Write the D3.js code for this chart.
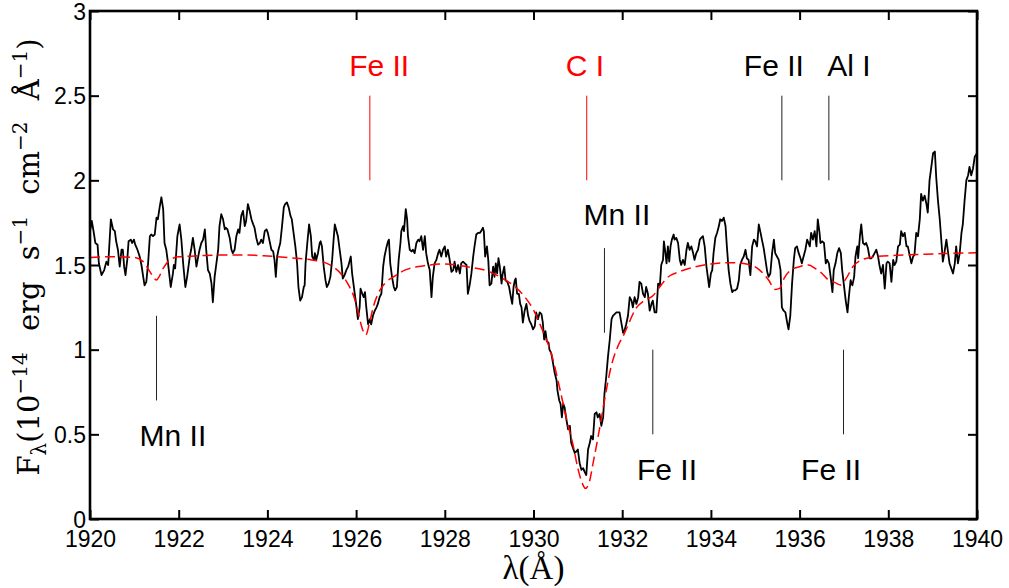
<!DOCTYPE html>
<html>
<head>
<meta charset="utf-8">
<script src="https://cdn.jsdelivr.net/npm/d3@7"></script>
<style>
  body { margin: 0; background: #fff; }
  svg { display: block; }
</style>
</head>
<body>
<div id="chart"></div>
<script>
// observed spectrum (wavelength in A, flux in 1e-14 erg/s/cm2/A)
var wl = [1920.00,1920.04,1920.08,1920.12,1920.17,1920.20,1920.26,1920.32,1920.37,1920.41,1920.47,1920.52,1920.56,1920.59,1920.63,1920.67,1920.71,1920.74,1920.77,1920.80,1920.84,1920.87,1920.92,1920.95,1920.99,1921.02,1921.07,1921.12,1921.16,1921.20,1921.23,1921.27,1921.31,1921.35,1921.38,1921.42,1921.46,1921.50,1921.53,1921.57,1921.61,1921.65,1921.68,1921.72,1921.76,1921.82,1921.87,1921.89,1921.92,1921.97,1922.02,1922.06,1922.10,1922.15,1922.19,1922.25,1922.28,1922.32,1922.36,1922.40,1922.44,1922.47,1922.51,1922.55,1922.59,1922.62,1922.66,1922.70,1922.74,1922.77,1922.81,1922.85,1922.89,1922.92,1922.96,1923.00,1923.04,1923.06,1923.10,1923.15,1923.19,1923.22,1923.26,1923.30,1923.34,1923.37,1923.41,1923.45,1923.49,1923.52,1923.56,1923.60,1923.64,1923.68,1923.71,1923.75,1923.79,1923.83,1923.86,1923.90,1923.94,1923.98,1924.01,
  1924.09,1924.13,1924.16,1924.19,1924.22,1924.25,1924.29,1924.33,1924.37,1924.40,1924.44,1924.48,1924.52,1924.55,1924.59,1924.63,1924.67,1924.70,1924.74,1924.78,1924.82,1924.84,1924.86,1924.90,1924.94,1924.98,1925.01,1925.05,1925.07,1925.10,1925.14,1925.18,1925.20,1925.23,1925.27,1925.31,1925.34,1925.38,1925.42,1925.46,1925.49,1925.52,1925.55,1925.59,1925.63,1925.67,1925.70,1925.74,1925.78,1925.82,1925.85,1925.88,1925.91,1925.94,1925.97,1926.00,1926.04,1926.08,1926.10,1926.14,1926.17,1926.20,1926.23,1926.27,1926.31,1926.34,1926.38,1926.42,1926.46,1926.49,1926.53,1926.57,1926.61,1926.64,1926.68,1926.72,1926.74,1926.77,1926.81,1926.85,1926.88,1926.92,1926.96,1927.00,1927.02,1927.06,1927.08,1927.12,1927.15,1927.17,1927.21,1927.25,1927.28,1927.32,1927.36,1927.40,1927.43,1927.47,1927.51,1927.55,1927.58,1927.62,1927.66,1927.70,1927.73,1927.77,1927.81,1927.85,1927.88,1927.92,1927.96,1928.00,1928.03,1928.07,1928.11,
  1928.15,1928.19,1928.22,1928.26,1928.30,1928.34,1928.37,1928.41,1928.45,1928.49,1928.52,1928.56,1928.60,1928.64,1928.67,1928.71,1928.75,1928.79,1928.82,1928.86,1928.88,1928.91,1928.95,1928.98,1929.01,1929.05,1929.09,1929.12,1929.15,1929.18,1929.21,1929.24,1929.28,1929.30,1929.34,1929.37,1929.41,1929.45,1929.49,1929.52,1929.55,1929.58,1929.60,1929.63,1929.67,1929.70,1929.73,1929.76,1929.80,1929.84,1929.88,1929.91,1929.95,1929.99,1930.03,1930.06,1930.10,1930.14,1930.18,1930.21,1930.24,1930.27,1930.30,1930.34,1930.36,1930.40,1930.44,1930.48,1930.52,1930.54,1930.58,1930.61,1930.64,1930.67,1930.70,1930.74,1930.78,1930.82,1930.85,1930.89,1930.93,1930.97,1931.00,1931.04,1931.08,1931.12,1931.15,1931.19,1931.23,1931.27,1931.30,1931.34,1931.38,1931.42,1931.45,1931.49,1931.53,1931.57,1931.60,1931.64,1931.68,1931.72,1931.76,1931.79,1931.83,1931.87,1931.91,1931.94,1931.98,1932.02,1932.06,1932.09,1932.13,1932.17,
  1932.21,1932.24,1932.28,1932.32,1932.36,1932.39,1932.43,1932.47,1932.51,1932.54,1932.58,1932.62,1932.66,1932.69,1932.73,1932.77,1932.81,1932.85,1932.88,1932.92,1932.94,1932.97,1933.00,1933.03,1933.06,1933.09,1933.12,1933.16,1933.18,1933.22,1933.26,1933.30,1933.33,1933.37,1933.41,1933.45,1933.48,1933.52,1933.56,1933.60,1933.63,1933.67,1933.71,1933.75,1933.78,1933.82,1933.86,1933.90,1933.94,1933.96,1934.00,1934.03,1934.06,1934.10,1934.14,1934.18,1934.21,1934.25,1934.29,1934.33,1934.36,1934.40,1934.44,1934.48,1934.51,1934.55,1934.59,1934.63,1934.66,1934.70,1934.74,1934.78,1934.81,1934.85,1934.89,1934.93,1934.97,1935.00,1935.04,1935.08,1935.12,1935.15,1935.19,1935.23,1935.27,1935.30,1935.34,1935.38,1935.42,1935.45,1935.49,1935.53,1935.57,1935.60,1935.64,1935.68,1935.72,1935.75,1935.79,1935.83,1935.87,1935.90,1935.94,1935.98,1936.02,1936.05,1936.09,1936.13,1936.17,1936.20,
  1936.23,1936.26,1936.30,1936.34,1936.38,1936.41,1936.45,1936.47,1936.51,1936.55,1936.59,1936.62,1936.66,1936.70,1936.74,1936.77,1936.81,1936.85,1936.89,1936.93,1936.96,1937.00,1937.04,1937.08,1937.11,1937.15,1937.19,1937.23,1937.26,1937.30,1937.32,1937.36,1937.39,1937.43,1937.47,1937.50,1937.54,1937.58,1937.62,1937.65,1937.69,1937.73,1937.77,1937.80,1937.84,1937.88,1937.92,1937.96,1937.99,1938.03,1938.07,1938.11,1938.14,1938.18,1938.22,1938.26,1938.29,1938.33,1938.37,1938.41,1938.44,1938.48,1938.52,1938.56,1938.59,1938.63,1938.67,1938.71,1938.74,1938.78,1938.82,1938.86,1938.89,1938.93,1938.97,1939.01,1939.05,1939.08,1939.12,1939.16,1939.20,1939.23,1939.27,1939.31,1939.35,1939.38,1939.42,1939.46,1939.50,1939.53,1939.57,1939.61,1939.65,1939.68,1939.72,1939.76,1939.80,1939.83,1939.87,1939.91,1939.95,1940.00];
var flux = [1.70,1.76,1.70,1.63,1.62,1.51,1.44,1.47,1.52,1.50,1.77,1.71,1.70,1.64,1.59,1.49,1.59,1.59,1.49,1.44,1.53,1.64,1.65,1.63,1.65,1.62,1.59,1.55,1.50,1.43,1.38,1.40,1.51,1.67,1.68,1.67,1.68,1.78,1.77,1.84,1.90,1.83,1.63,1.59,1.51,1.37,1.45,1.50,1.48,1.67,1.74,1.65,1.51,1.37,1.43,1.55,1.59,1.66,1.59,1.49,1.55,1.59,1.63,1.65,1.71,1.59,1.47,1.45,1.39,1.28,1.43,1.51,1.59,1.73,1.80,1.77,1.71,1.72,1.71,1.66,1.59,1.57,1.59,1.67,1.71,1.69,1.79,1.82,1.73,1.76,1.86,1.82,1.77,1.74,1.72,1.66,1.62,1.63,1.65,1.63,1.70,1.71,1.69,
  1.59,1.58,1.53,1.43,1.55,1.59,1.63,1.73,1.84,1.86,1.87,1.84,1.79,1.77,1.69,1.61,1.51,1.37,1.29,1.31,1.37,1.38,1.51,1.63,1.74,1.67,1.55,1.53,1.57,1.53,1.57,1.63,1.64,1.61,1.49,1.41,1.37,1.39,1.43,1.53,1.64,1.74,1.71,1.67,1.59,1.51,1.42,1.44,1.47,1.49,1.52,1.55,1.45,1.39,1.33,1.27,1.18,1.25,1.36,1.33,1.31,1.34,1.25,1.15,1.18,1.15,1.20,1.23,1.25,1.27,1.31,1.33,1.49,1.55,1.60,1.64,1.65,1.51,1.43,1.37,1.35,1.37,1.53,1.63,1.70,1.73,1.70,1.83,1.77,1.67,1.59,1.58,1.59,1.57,1.63,1.65,1.64,1.67,1.59,1.67,1.57,1.51,1.47,1.31,1.43,1.51,1.53,1.57,1.59,1.55,1.59,1.61,1.55,1.59,1.53,
  1.46,1.47,1.52,1.46,1.50,1.45,1.51,1.52,1.51,1.50,1.33,1.38,1.45,1.55,1.61,1.68,1.69,1.69,1.70,1.72,1.70,1.55,1.61,1.53,1.38,1.39,1.49,1.43,1.51,1.45,1.54,1.49,1.39,1.44,1.49,1.41,1.40,1.37,1.31,1.27,1.37,1.41,1.42,1.33,1.33,1.27,1.25,1.16,1.23,1.27,1.20,1.17,1.15,1.12,1.14,1.22,1.18,1.22,1.21,1.16,1.06,1.11,1.05,1.04,1.00,0.98,0.92,0.86,0.82,0.76,0.70,0.68,0.60,0.68,0.66,0.59,0.53,0.55,0.45,0.42,0.39,0.40,0.41,0.33,0.29,0.30,0.28,0.26,0.41,0.45,0.49,0.47,0.62,0.63,0.60,0.62,0.55,0.60,0.74,0.84,0.96,1.06,1.18,1.20,1.21,1.22,1.22,1.22,1.16,1.10,1.12,1.15,1.20,1.31,
  1.29,1.25,1.31,1.27,1.31,1.40,1.39,1.33,1.31,1.37,1.33,1.23,1.27,1.29,1.22,1.22,1.39,1.38,1.50,1.53,1.64,1.58,1.51,1.61,1.52,1.61,1.65,1.68,1.65,1.66,1.63,1.53,1.50,1.53,1.50,1.59,1.63,1.59,1.61,1.57,1.53,1.57,1.59,1.65,1.66,1.67,1.61,1.49,1.41,1.37,1.45,1.47,1.57,1.66,1.69,1.73,1.77,1.76,1.78,1.73,1.61,1.47,1.39,1.34,1.35,1.35,1.36,1.41,1.50,1.53,1.55,1.59,1.54,1.53,1.44,1.61,1.65,1.64,1.61,1.74,1.69,1.65,1.60,1.53,1.46,1.43,1.45,1.57,1.65,1.57,1.55,1.53,1.47,1.25,1.23,1.22,1.16,1.12,1.20,1.39,1.53,1.60,1.61,1.57,1.54,1.51,1.55,1.59,1.65,1.63,
  1.61,1.69,1.65,1.70,1.61,1.77,1.69,1.63,1.64,1.63,1.51,1.53,1.51,1.43,1.34,1.47,1.51,1.57,1.60,1.57,1.47,1.38,1.29,1.22,1.31,1.41,1.38,1.43,1.55,1.61,1.54,1.67,1.74,1.63,1.62,1.63,1.60,1.54,1.54,1.55,1.57,1.59,1.55,1.50,1.45,1.50,1.36,1.51,1.52,1.51,1.40,1.53,1.50,1.52,1.61,1.62,1.70,1.67,1.69,1.61,1.61,1.56,1.51,1.55,1.56,1.69,1.67,1.77,1.92,1.88,1.91,1.86,1.81,2.00,2.08,2.16,2.17,2.02,1.88,1.77,1.63,1.52,1.58,1.65,1.57,1.51,1.48,1.45,1.51,1.61,1.51,1.57,1.69,1.74,1.88,2.00,2.03,2.08,2.03,2.07,2.14,2.16];

// model fit
var modelWl = [1920.00,1920.50,1921.00,1921.20,1921.35,1921.45,1921.50,1921.55,1921.65,1921.80,1922.00,1922.50,1923.00,1923.50,1924.00,1924.50,1925.00,1925.30,1925.50,1925.70,1925.85,1925.95,1926.05,1926.15,1926.22,1926.30,1926.40,1926.50,1926.65,1926.85,1927.10,1927.50,1928.00,1928.50,1929.00,1929.30,1929.60,1929.80,1930.00,1930.20,1930.40,1930.60,1930.75,1930.90,1931.00,1931.10,1931.17,1931.25,1931.35,1931.45,1931.55,1931.65,1931.75,1931.90,1932.05,1932.15,1932.30,1932.50,1932.70,1932.85,1933.00,1933.30,1933.60,1934.00,1934.50,1934.90,1935.10,1935.30,1935.45,1935.55,1935.65,1935.80,1936.00,1936.20,1936.35,1936.50,1936.65,1936.80,1936.92,1937.05,1937.20,1937.40,1937.70,1938.20,1939.00,1939.50,1940.00];
var modelFlux = [1.545,1.549,1.545,1.520,1.461,1.421,1.411,1.427,1.480,1.530,1.549,1.555,1.559,1.559,1.553,1.543,1.530,1.514,1.486,1.435,1.372,1.313,1.215,1.116,1.087,1.156,1.264,1.333,1.392,1.431,1.470,1.494,1.506,1.490,1.461,1.421,1.368,1.313,1.234,1.116,0.978,0.762,0.585,0.427,0.299,0.211,0.181,0.211,0.339,0.476,0.624,0.772,0.900,1.018,1.096,1.156,1.240,1.290,1.320,1.372,1.421,1.461,1.486,1.506,1.514,1.500,1.470,1.411,1.356,1.362,1.421,1.470,1.490,1.500,1.480,1.451,1.411,1.396,1.382,1.421,1.490,1.530,1.549,1.557,1.565,1.569,1.573];

// line identifications
var lineName = ["Fe II","C I","Fe II","Al I","Mn II","Mn II","Fe II","Fe II"];
var lineWl = [1926.31,1931.20,1935.60,1936.66,1931.60,1921.50,1932.69,1936.99];
var lineFitted = [true,true,false,false,false,false,false,false];
var markTop = [2.5,2.5,2.5,2.5,1.6,1.2,1.0,1.0];
var markBottom = [2.0,2.0,2.0,2.0,1.1,0.7,0.5,0.5];
var labelWl = [1926.52,1931.16,1935.42,1937.11,1931.88,1921.87,1933.01,1936.71];
var labelFlux = [2.616,2.616,2.616,2.616,1.736,0.431,0.230,0.230];

var xTicks = [1920,1922,1924,1926,1928,1930,1932,1934,1936,1938,1940];
var yTicks = [0,0.5,1,1.5,2,2.5,3];

var margin = {top: 11, right: 32, bottom: 69, left: 90},
    width = 1009 - margin.left - margin.right,
    height = 588 - margin.top - margin.bottom;

var svg = d3.select("#chart")
  .append("svg")
    .attr("width", 1009)
    .attr("height", 588)
  .append("g")
    .attr("transform", "translate(" + margin.left + "," + margin.top + ")");

var x = d3.scaleLinear().domain([1920, 1940]).range([0, width]);
var y = d3.scaleLinear().domain([0, 3]).range([height, 0]);

svg.append("clipPath").attr("id", "clip")
  .append("rect").attr("width", width).attr("height", height);

var spec = wl.map(function(d, i) { return [d, flux[i]]; });
var model = modelWl.map(function(d, i) { return [d, modelFlux[i]]; });

var plot = svg.append("g").attr("clip-path", "url(#clip)");

plot.append("path")
  .datum(spec)
  .attr("fill", "none")
  .attr("stroke", "#000")
  .attr("stroke-width", 1.8)
  .attr("stroke-linejoin", "round")
  .attr("d", d3.line().x(function(d) { return x(d[0]); }).y(function(d) { return y(d[1]); }));

plot.append("path")
  .datum(model)
  .attr("fill", "none")
  .attr("stroke", "#ff0000")
  .attr("stroke-width", 1.5)
  .attr("stroke-dasharray", "10,5")
  .attr("d", d3.line().curve(d3.curveMonotoneX).x(function(d) { return x(d[0]); }).y(function(d) { return y(d[1]); }));

// line markers + labels
var ids = lineName.map(function(d, i) { return i; });
svg.selectAll(".mark")
  .data(ids)
  .enter()
  .append("line")
    .attr("x1", function(i) { return x(lineWl[i]); })
    .attr("x2", function(i) { return x(lineWl[i]); })
    .attr("y1", function(i) { return y(markTop[i]); })
    .attr("y2", function(i) { return y(markBottom[i]); })
    .attr("stroke", function(i) { return lineFitted[i] ? "#ff0000" : "#222"; })
    .attr("stroke-width", 1);

svg.selectAll(".lab")
  .data(ids)
  .enter()
  .append("text")
    .attr("x", function(i) { return x(labelWl[i]); })
    .attr("y", function(i) { return y(labelFlux[i]); })
    .attr("text-anchor", "middle")
    .style("font-family", "'Liberation Sans', Arial, sans-serif")
    .style("font-size", "30px")
    .attr("fill", function(i) { return lineFitted[i] ? "#ff0000" : "#000"; })
    .text(function(i) { return lineName[i]; });

// axes box with inward ticks on all four sides
var tickLen = 9;
var axB = svg.append("g").attr("transform", "translate(0," + height + ")")
  .call(d3.axisBottom(x).tickValues(xTicks).tickSizeInner(-tickLen).tickSizeOuter(0).tickPadding(12).tickFormat(d3.format("d")));
var axT = svg.append("g")
  .call(d3.axisTop(x).tickValues(xTicks).tickSizeInner(-tickLen).tickSizeOuter(0).tickFormat(""));
var axL = svg.append("g")
  .call(d3.axisLeft(y).tickValues(yTicks).tickSizeInner(-tickLen).tickSizeOuter(0).tickPadding(4).tickFormat(function(d) { return String(d); }));
var axR = svg.append("g").attr("transform", "translate(" + width + ",0)")
  .call(d3.axisRight(y).tickValues(yTicks).tickSizeInner(-tickLen).tickSizeOuter(0).tickFormat(""));

[axB, axT, axL, axR].forEach(function(g) {
  g.select(".domain").remove();
  g.selectAll(".tick line").attr("stroke", "#000").attr("stroke-width", 2);
  g.selectAll(".tick text")
    .style("font-family", "'Liberation Sans', Arial, sans-serif")
    .style("font-size", "23px")
    .attr("fill", "#000");
});
axL.selectAll(".tick text").attr("dy", "0.36em");

svg.append("rect")
  .attr("width", width)
  .attr("height", height)
  .attr("fill", "none")
  .attr("stroke", "#000")
  .attr("stroke-width", 2.6);

// axis titles
svg.append("text")
  .attr("x", width / 2)
  .attr("y", 579 - margin.top)
  .attr("text-anchor", "middle")
  .style("font-family", "'Liberation Serif', 'DejaVu Serif', serif")
  .style("font-size", "33px")
  .text("\u03bb(\u00c5)");

var ylab = svg.append("text")
  .attr("transform", "translate(" + (39 - margin.left) + "," + (257 - margin.top) + ") rotate(-90)")
  .attr("text-anchor", "middle")
  .style("font-family", "'DejaVu Serif', 'Liberation Serif', serif")
  .style("font-size", "29px");

// pieces of the y title: text, kind (0 normal, 1 subscript, -1 superscript), gap before
var parts = [["F", 0, 0], ["\u03bb", 1, 0], ["(10", 0, 0], ["\u221214", -1, 0], ["erg", 0, 1], ["s", 0, 1], ["\u22121", -1, 0],
             ["cm", 0, 1], ["\u22122", -1, 0], ["\u00c5", 0, 1], ["\u22121", -1, 0], [")", 0, 0]];
var prev = 0, gaps = [];
parts.forEach(function(p) {
  var shift = p[1] === 1 ? 7 : (p[1] === -1 ? -12 : 0);
  var t = ylab.append("tspan")
    .attr("dy", shift - prev)
    .style("font-size", p[1] === 0 ? null : "20px")
    .text(p[0]);
  if (p[2]) gaps.push(t);
  prev = shift;
});
// spread the gaps so the title spans the same height as the original
var target = 437, len = ylab.node().getComputedTextLength();
var extra = Math.max(0, (target - len) / gaps.length);
gaps.forEach(function(t) { t.attr("dx", extra); });
</script>
</body>
</html>
